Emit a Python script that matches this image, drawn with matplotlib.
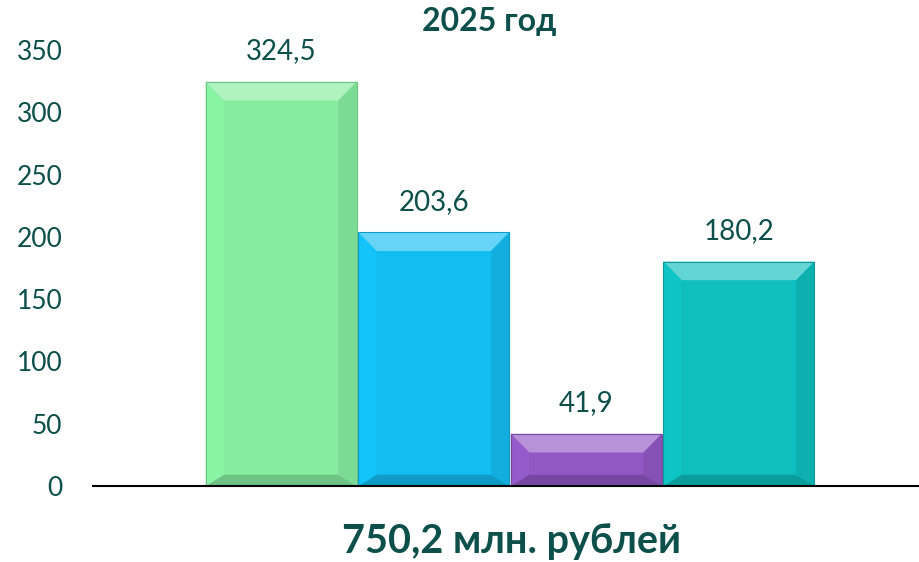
import matplotlib.pyplot as plt
import matplotlib.colors as mcolors
from matplotlib.patches import Polygon

# данные
categories = ['A', 'B', 'C', 'D']
values = [324.5, 203.6, 41.9, 180.2]
labels = ['324,5', '203,6', '41,9', '180,2']
colors = ['#86EDA0', '#12BDF2', '#9158C4', '#0FBEBE']
title = '2025 год'
total_text = '750,2 млн. рублей'
yticks = [0, 50, 100, 150, 200, 250, 300, 350]

text_color = '#0D4F4A'
plt.rcParams['font.family'] = ['Lato', 'DejaVu Sans']

fig = plt.figure(figsize=(9.19, 5.62), dpi=100)
ax = fig.add_axes([93 / 919, (562 - 486) / 562, 1 - 93 / 919, (486 - 50) / 562])

x = list(range(len(categories)))
width = 0.99
ax.bar(x, values, width=width, color=colors, zorder=2)

ax.set_xlim(-1.233, 4.18)
ax.set_ylim(0, 350)

# эффект фаски: светлый верх, тёмный низ и бока
bx = 0.12   # ширина фаски по x (в единицах категорий)
by = 15.0   # высота фаски по y
for xi, v, c in zip(x, values, colors):
    l, r = xi - width / 2, xi + width / 2
    b = min(by, v / 2.5)
    rgb = mcolors.to_rgb(c)
    light = tuple(min(1, ch + (1 - ch) * 0.35) for ch in rgb)
    dark = tuple(ch * 0.82 for ch in rgb)
    side = tuple(ch * 0.92 for ch in rgb)
    ax.add_patch(Polygon([(l, v), (r, v), (r - bx, v - b), (l + bx, v - b)],
                         closed=True, color=light, lw=0, zorder=3))
    ax.add_patch(Polygon([(l, 0), (r, 0), (r - bx, b * 0.6), (l + bx, b * 0.6)],
                         closed=True, color=dark, lw=0, zorder=3))
    ax.add_patch(Polygon([(r, 0), (r, v), (r - bx, v - b), (r - bx, b * 0.6)],
                         closed=True, color=side, lw=0, zorder=3))
    ax.add_patch(Polygon([(l, 0), (l, v), (l + bx, v - b), (l + bx, b * 0.6)],
                         closed=True, color=tuple(min(1, ch * 1.03) for ch in rgb),
                         lw=0, zorder=3))
    ax.add_patch(plt.Rectangle((l, 0), width, v, fill=False,
                               edgecolor=dark, lw=0.8, zorder=4))

for xi, v, lab in zip(x, values, labels):
    ax.annotate(lab, (xi, v), xytext=(0, 22), textcoords='offset points',
                ha='center', va='center', fontsize=20, color=text_color)

ax.set_yticks(yticks)
ax.set_xticks([])
ax.tick_params(axis='y', length=0, labelsize=19, labelcolor=text_color, pad=22)
for s in ['top', 'right', 'left']:
    ax.spines[s].set_visible(False)
ax.spines['bottom'].set_linewidth(1.5)
ax.spines['bottom'].set_color('black')
ax.spines['bottom'].set_zorder(5)

fig.text(489 / 919, 1 - 22 / 562, title, ha='center', va='center',
         fontsize=23, fontweight='bold', color=text_color)
fig.text(511 / 919, 1 - 541 / 562, total_text, ha='center', va='center',
         fontsize=28.5, fontweight='bold', color=text_color)

fig.savefig('out.png', dpi=100)
